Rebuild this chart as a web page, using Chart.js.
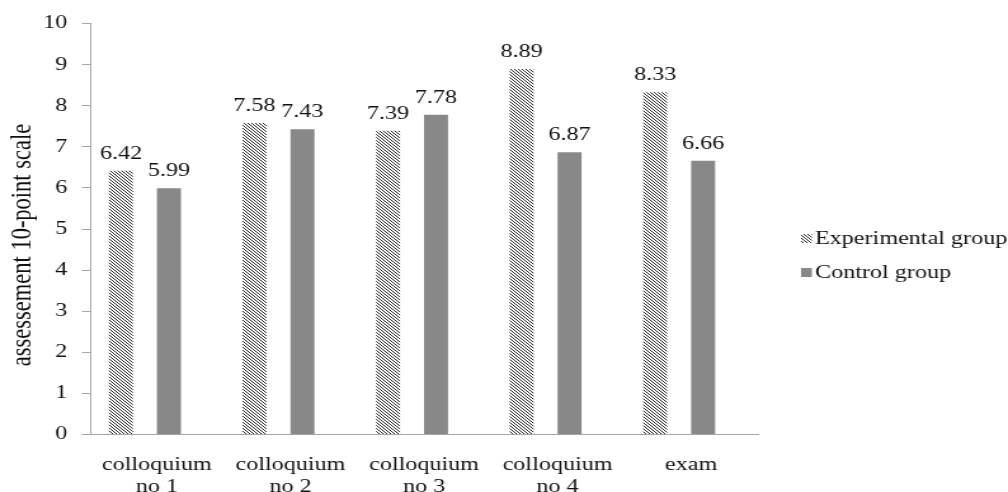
<!DOCTYPE html>
<html>
<head>
<meta charset="utf-8">
<script src="https://cdn.jsdelivr.net/npm/chart.js@4/dist/chart.umd.min.js"></script>
<style>
  html, body { margin: 0; padding: 0; background: #fff; overflow: hidden; }
  /* the chart is laid out on a narrower canvas and widened to the page */
  #wrap { position: absolute; left: 0; top: 0; width: 794px; height: 492px;
          transform: scaleX(1.2695); transform-origin: 0 0; }
</style>
</head>
<body>
<div id="wrap"><canvas id="chart"></canvas></div>
<script>
// Categories (two-line labels where the label wraps)
const categories = [
  ['colloquium', 'no 1'],
  ['colloquium', 'no 2'],
  ['colloquium', 'no 3'],
  ['colloquium', 'no 4'],
  'exam'
];

// Mean assessment per group
const experimentalScores = [6.42, 7.58, 7.39, 8.89, 8.33];
const controlScores      = [5.99, 7.43, 7.78, 6.87, 6.66];

const seriesNames = ['Experimental group', 'Control group'];
const yTickValues = [0, 1, 2, 3, 4, 5, 6, 7, 8, 9, 10];
const yAxisTitle = 'assessement 10-point scale';

const FONT = '"Liberation Serif", "Times New Roman", serif';
const FONT_SIZE = 19;
const AXIS_GREY = '#a6a6a6';
const TEXT = '#111';

// Diagonal hatching used for the experimental group
function makeHatch() {
  const c = document.createElement('canvas');
  c.width = 3; c.height = 3;
  const g = c.getContext('2d');
  g.fillStyle = '#ffffff';
  g.fillRect(0, 0, 3, 3);
  g.fillStyle = '#2a2a2a';
  for (let i = 0; i < 3; i++) g.fillRect(i, i, 1, 1);
  return g.createPattern(c, 'repeat');
}
const hatch = makeHatch();

// Empty slots keep the bars in the positions of a four-slot group
const emptySlot = categories.map(() => null);

// Value labels above every bar
const valueLabels = {
  id: 'valueLabels',
  afterDatasetsDraw(chart) {
    const { ctx } = chart;
    ctx.save();
    ctx.font = FONT_SIZE + 'px ' + FONT;
    ctx.fillStyle = TEXT;
    ctx.textAlign = 'center';
    ctx.textBaseline = 'alphabetic';
    chart.data.datasets.forEach((ds, di) => {
      if (!ds.label) return;
      chart.getDatasetMeta(di).data.forEach((bar, i) => {
        const v = ds.data[i];
        if (v == null) return;
        ctx.fillText(v.toFixed(2), bar.x, bar.y - 12);
      });
    });
    ctx.restore();
  }
};

// Vertical axis title, set a little below the plot's middle
const axisTitle = {
  id: 'axisTitle',
  afterDraw(chart) {
    const { ctx } = chart;
    ctx.save();
    ctx.translate(18, 245);
    ctx.rotate(-Math.PI / 2);
    ctx.font = '22.5px ' + FONT;
    ctx.fillStyle = TEXT;
    ctx.textAlign = 'center';
    ctx.textBaseline = 'middle';
    ctx.fillText(yAxisTitle, 0, 0);
    ctx.restore();
  }
};

// Legend to the right of the plot
const sideLegend = {
  id: 'sideLegend',
  afterDraw(chart) {
    const { ctx, chartArea } = chart;
    const items = chart.data.datasets.filter(d => d.label);
    ctx.save();
    ctx.font = FONT_SIZE + 'px ' + FONT;
    ctx.textBaseline = 'alphabetic';
    ctx.textAlign = 'left';
    items.forEach((d, i) => {
      const baseY = 244 + i * 34;
      const bx = chartArea.right + 34;
      ctx.fillStyle = d.backgroundColor;
      ctx.fillRect(bx, baseY - 10, 8.5, 9);
      ctx.fillStyle = TEXT;
      ctx.fillText(d.label, bx + 11, baseY);
    });
    ctx.restore();
  }
};

new Chart(document.getElementById('chart'), {
  type: 'bar',
  data: {
    labels: categories,
    datasets: [
      { label: seriesNames[0], data: experimentalScores, backgroundColor: hatch, borderWidth: 0 },
      { label: '', data: emptySlot },
      { label: seriesNames[1], data: controlScores, backgroundColor: '#888888', borderWidth: 0 },
      { label: '', data: emptySlot }
    ]
  },
  options: {
    responsive: true,
    maintainAspectRatio: false,
    animation: false,
    devicePixelRatio: 1,
    layout: { padding: { top: 23.5, right: 197, left: 0, bottom: 0 } },
    datasets: { bar: { categoryPercentage: 0.7186, barPercentage: 1.0 } },
    plugins: {
      legend: { display: false },
      tooltip: { enabled: false }
    },
    scales: {
      x: {
        grid: { display: false, drawTicks: false },
        border: { display: true, color: AXIS_GREY, width: 1 },
        ticks: {
          color: TEXT,
          font: { family: FONT, size: FONT_SIZE, lineHeight: 1.18 },
          padding: 19,
          maxRotation: 0,
          autoSkip: false
        },
        afterFit(scale) { scale.height = 57.5; }
      },
      y: {
        min: 0,
        max: 10,
        afterBuildTicks(scale) { scale.ticks = yTickValues.map(v => ({ value: v })); },
        grid: { drawOnChartArea: false, drawTicks: true, tickLength: 6.5, color: AXIS_GREY },
        border: { display: true, color: AXIS_GREY, width: 1 },
        ticks: {
          color: TEXT,
          font: { family: FONT, size: FONT_SIZE },
          padding: 11.5
        },
        title: { display: false },
        afterFit(scale) { scale.width = 71; }
      }
    }
  },
  plugins: [valueLabels, axisTitle, sideLegend]
});
</script>
</body>
</html>
